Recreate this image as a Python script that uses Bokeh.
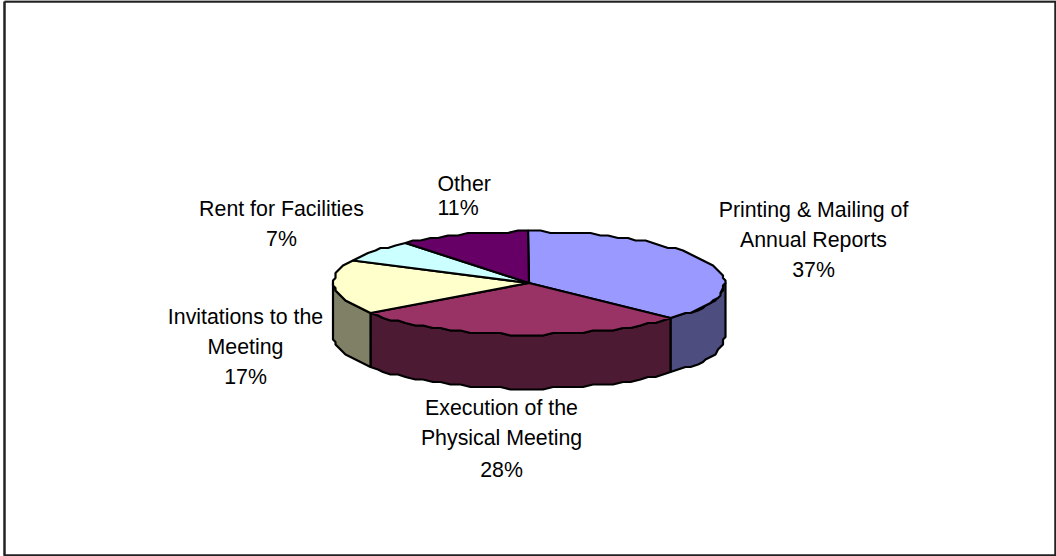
import math
from bokeh.embed import file_html
from bokeh.models import Range1d
from bokeh.plotting import figure
from bokeh.resources import INLINE
from bokeh.core.properties import value

# Share of each cost, clockwise from twelve o'clock
categories = ["Printing & Mailing of Annual Reports", "Execution of the Physical Meeting",
              "Invitations to the Meeting", "Rent for Facilities", "Other"]
shares = [37, 28, 17, 7, 11]
top_colors = ["#9999FF", "#993366", "#FFFFCC", "#CCFFFF", "#660066"]
side_colors = ["#4D4D80", "#4D1A33", "#808066", "#668080", "#330033"]

# Label lines with their centre/left anchor and vertical middle
label_lines = [
    ("Printing & Mailing of", 813, 209, "center"),
    ("Annual Reports", 813, 239, "center"),
    ("37%", 813, 269, "center"),
    ("Execution of the", 501, 407, "center"),
    ("Physical Meeting", 501, 437, "center"),
    ("28%", 501, 469, "center"),
    ("Invitations to the", 245, 316, "center"),
    ("Meeting", 245, 346, "center"),
    ("17%", 245, 376, "center"),
    ("Rent for Facilities", 281, 208, "center"),
    ("7%", 281, 238, "center"),
    ("Other", 437, 183, "left"),
    ("11%", 437, 207, "left"),
]

W, H = 1056, 556
CX, CY, RX, RY, DEPTH = 528.5, 282.5, 195.5, 51.5, 54
SNAP = 2.5  # coarse outline grid gives the rim its slightly faceted edge

p = figure(width=W, height=H, output_backend="svg", toolbar_location=None,
           x_range=Range1d(0, W), y_range=Range1d(H, 0), min_border=0,
           x_axis_type=None, y_axis_type=None, background_fill_color="white",
           border_fill_color="white", outline_line_color=None)
p.grid.visible = False


def snap(v):
    return round(v / SNAP) * SNAP


def rim(a0, a1, dy=0.0):
    """Points along the ellipse between two clockwise angles (degrees from top)."""
    n = max(2, int(abs(a1 - a0) / 3) + 1)
    pts = [a0 + (a1 - a0) * i / (n - 1) for i in range(n)]
    xs = [snap(CX + RX * math.sin(math.radians(a))) for a in pts]
    ys = [snap(CY - RY * math.cos(math.radians(a))) + dy for a in pts]
    return xs, ys


# Chart frame
p.line([4, 1055, 1055, 4, 4], [1, 1, 555, 555, 1], line_color="#222222", line_width=2.5)

# Running slice boundaries in degrees
angles = [0.0]
for s in shares:
    angles.append(angles[-1] + s * 3.6)

# Front wall: only the part of each slice between 3 and 9 o'clock is visible
for i, color in enumerate(side_colors):
    a0, a1 = max(angles[i], 90), min(angles[i + 1], 270)
    if a0 >= a1:
        continue
    xs, ys = rim(a0, a1)
    xb, yb = rim(a0, a1, DEPTH)
    p.patch(xs + xb[::-1], ys + yb[::-1], fill_color=color, line_color="black", line_width=2.2)

# Top face
for i, color in enumerate(top_colors):
    xs, ys = rim(angles[i], angles[i + 1])
    p.patch([CX] + xs, [CY] + ys, fill_color=color, line_color="black", line_width=2.2)

for text, x, y, align in label_lines:
    p.text([x], [y], text=[text], text_font=value("Liberation Sans"), text_font_size="21.33px",
           text_align=align, text_baseline="middle", text_color="black")

open("out.html", "w").write(file_html(p, INLINE))
